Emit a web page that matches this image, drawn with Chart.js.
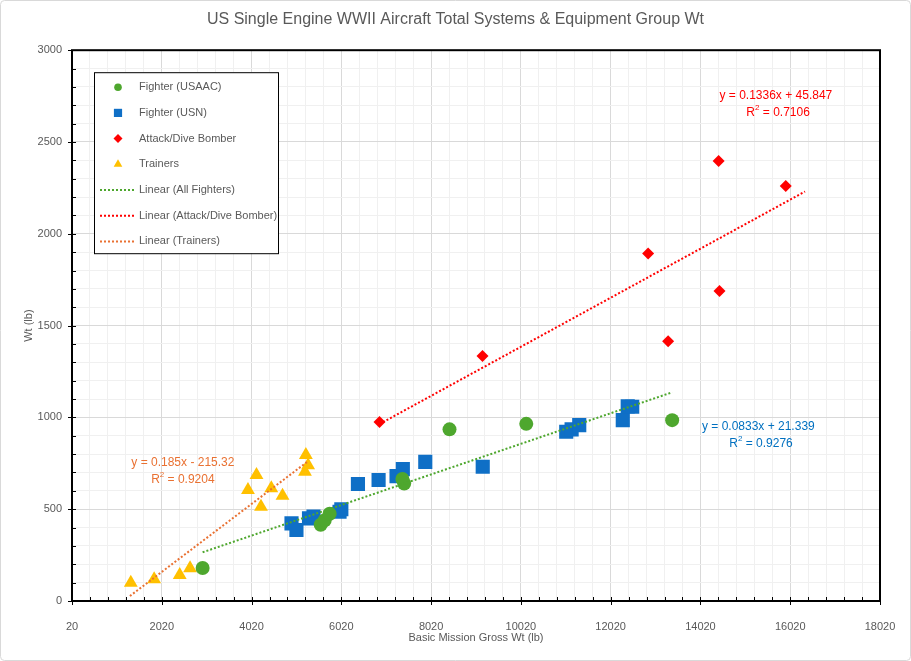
<!DOCTYPE html>
<html>
<head>
<meta charset="utf-8">
<script src="https://cdn.jsdelivr.net/npm/chart.js@4.4.1/dist/chart.umd.min.js"></script>
<style>
  html, body { margin: 0; padding: 0; background: #fff; }
</style>
</head>
<body>
<canvas id="scatter-chart" width="911" height="661"></canvas>
<script>
// values
const fighterArmyX = [2930, 5560, 5650, 5760, 7380, 7420, 8430, 10140, 13390];
const fighterArmyY = [180, 415, 440, 475, 665, 640, 935, 965, 985];

const fighterNavyX = [4910, 5020, 5300, 5400, 5980, 6020, 6390, 6850, 7250, 7390, 7890, 9170, 11030, 11150, 11320, 12290, 12400, 12500];
const fighterNavyY = [423, 387, 450, 460, 486, 500, 637, 659, 680, 718, 758, 731, 922, 935, 958, 985, 1060, 1058];

const bomberX = [6870, 9165, 12855, 13300, 14425, 14445, 15920];
const bomberY = [975, 1335, 1893, 1415, 2397, 1689, 2260];

const trainerX = [1330, 1850, 2420, 2650, 3940, 4130, 4230, 4460, 4710, 5230, 5280, 5210];
const trainerY = [100, 118, 142, 178, 604, 686, 513, 614, 573, 795, 740, 704];

// trendline equations as printed on the chart: [slope, intercept], x range
const fighterFit = [0.0833, 21.339];
const fighterFitRange = [2930, 13390];
const bomberFit = [0.1336, 45.847];
const bomberFitRange = [6870, 16350];
const trainerFit = [0.185, -215.32];
const trainerFitRange = [1310, 5280];

const xMajorTicks = [20, 2020, 4020, 6020, 8020, 10020, 12020, 14020, 16020, 18020];
const yMajorTicks = [0, 500, 1000, 1500, 2000, 2500, 3000];

const green = '#4ea72e';
const blue = '#0f6fc6';
const red = '#ff0000';
const gold = '#ffc000';
const orange = '#e97132';
const textGray = '#595959';
const font = 'Liberation Sans';

const toPoints = (xs, ys) => xs.map((x, i) => ({ x: x, y: ys[i] }));
const fitLine = (fit, range) => range.map(x => ({ x: x, y: fit[0] * x + fit[1] }));

// minor ticks: x every 400, y every 100
const xTickValues = [];
xMajorTicks.forEach((v, i) => {
  if (i === 0) { xTickValues.push(v); return; }
  for (let k = 4; k >= 0; k--) xTickValues.push(v - k * 400);
});
const yTickValues = [];
for (let v = 0; v <= 3000; v += 100) yTickValues.push(v);

const isMajor = (list, v) => list.indexOf(v) !== -1;

const scatterSet = (label, data, color, style, radius, order) => ({
  type: 'scatter',
  label: label,
  data: data,
  backgroundColor: color,
  borderColor: color,
  borderWidth: 0,
  pointStyle: style,
  pointRadius: radius,
  pointHoverRadius: radius,
  order: order
});

const trendSet = (label, data, color) => ({
  type: 'line',
  label: label,
  data: data,
  borderColor: color,
  backgroundColor: color,
  borderWidth: 2,
  borderDash: [2, 2],
  pointRadius: 0,
  fill: false,
  order: 0
});

const frameAndTicks = {
  id: 'frameAndTicks',
  beforeDraw(c) {
    const ctx = c.ctx;
    ctx.save();
    ctx.fillStyle = '#fff';
    ctx.fillRect(0, 0, c.width, c.height);
    ctx.strokeStyle = '#d9d9d9';
    ctx.lineWidth = 1;
    ctx.beginPath();
    ctx.roundRect(0.5, 0.5, c.width - 1, c.height - 1, 4);
    ctx.stroke();
    ctx.restore();
  },
  afterDatasetsDraw(c) {
    const ctx = c.ctx;
    const a = c.chartArea;
    const xs = c.scales.x, ys = c.scales.y;
    ctx.save();
    ctx.strokeStyle = '#000';
    ctx.lineWidth = 1;
    ctx.beginPath();
    xs.ticks.forEach(t => {
      const px = Math.round(xs.getPixelForValue(t.value)) + 0.5;
      ctx.moveTo(px, a.bottom - 4);
      ctx.lineTo(px, a.bottom + (isMajor(xMajorTicks, t.value) ? 4 : 0));
    });
    ys.ticks.forEach(t => {
      const py = Math.round(ys.getPixelForValue(t.value)) + 0.5;
      ctx.moveTo(a.left + 4, py);
      ctx.lineTo(a.left - (isMajor(yMajorTicks, t.value) ? 4 : 0), py);
    });
    ctx.stroke();
    ctx.lineWidth = 2;
    ctx.strokeRect(a.left, a.top, a.right - a.left, a.bottom - a.top);
    ctx.restore();
  }
};

// "y = ..." and "R² = ..." labels placed by data value
const equationLabels = [
  { text: 'y = 0.1336x + 45.847', r2: '0.7106', color: red, eq: [15700, 2750], r: [15750, 2657] },
  { text: 'y = 0.0833x + 21.339', r2: '0.9276', color: '#0070c0', eq: [15310, 947], r: [15370, 855] },
  { text: 'y = 0.185x - 215.32', r2: '0.9204', color: orange, eq: [2490, 751], r: [2490, 659] }
];

const eqPlugin = {
  id: 'eqPlugin',
  afterDatasetsDraw(c) {
    const ctx = c.ctx;
    const xs = c.scales.x, ys = c.scales.y;
    ctx.save();
    ctx.textBaseline = 'middle';
    equationLabels.forEach(l => {
      ctx.fillStyle = l.color;
      ctx.font = `12px "${font}"`;
      ctx.textAlign = 'center';
      ctx.fillText(l.text, xs.getPixelForValue(l.eq[0]), ys.getPixelForValue(l.eq[1]));
      const rest = ' = ' + l.r2;
      const wR = ctx.measureText('R').width;
      const wRest = ctx.measureText(rest).width;
      ctx.font = `8px "${font}"`;
      const w2 = ctx.measureText('2').width;
      const total = wR + w2 + wRest;
      let x = xs.getPixelForValue(l.r[0]) - total / 2;
      const y = ys.getPixelForValue(l.r[1]);
      ctx.textAlign = 'left';
      ctx.font = `12px "${font}"`;
      ctx.fillText('R', x, y);
      ctx.font = `8px "${font}"`;
      ctx.fillText('2', x + wR, y - 5);
      ctx.font = `12px "${font}"`;
      ctx.fillText(rest, x + wR + w2, y);
    });
    ctx.restore();
  }
};

const legendBox = {
  id: 'legendBox',
  afterDraw(c) {
    const ctx = c.ctx;
    const a = c.chartArea;
    const left = a.left + 22, top = a.top + 22, w = 184, h = 181;
    const markerSize = { circle: 3.8, rect: 5.8, rectRot: 4.5, triangle: 5 };
    ctx.save();
    ctx.fillStyle = '#fff';
    ctx.fillRect(left, top, w, h);
    ctx.strokeStyle = '#000';
    ctx.lineWidth = 1;
    ctx.strokeRect(left + 0.5, top + 0.5, w, h);
    ctx.font = `11px "${font}"`;
    ctx.textBaseline = 'middle';
    ctx.textAlign = 'left';
    c.data.datasets.forEach((ds, i) => {
      const y = top + 15 + i * 25.7;
      if (ds.type === 'scatter') {
        ctx.fillStyle = ds.backgroundColor;
        Chart.helpers.drawPoint(ctx, {
          pointStyle: ds.pointStyle,
          radius: markerSize[ds.pointStyle],
          rotation: 0,
          borderWidth: 0
        }, left + 24, y);
      } else {
        ctx.strokeStyle = ds.borderColor;
        ctx.lineWidth = 2;
        ctx.setLineDash([2, 2]);
        ctx.beginPath();
        ctx.moveTo(left + 6, y);
        ctx.lineTo(left + 40, y);
        ctx.stroke();
        ctx.setLineDash([]);
      }
      ctx.fillStyle = textGray;
      ctx.fillText(ds.label, left + 45, y);
    });
    ctx.restore();
  }
};

new Chart(document.getElementById('scatter-chart').getContext('2d'), {
  type: 'scatter',
  data: {
    datasets: [
      scatterSet('Fighter (USAAC)', toPoints(fighterArmyX, fighterArmyY), green, 'circle', 7, 1),
      scatterSet('Fighter (USN)', toPoints(fighterNavyX, fighterNavyY), blue, 'rect', 10, 2),
      scatterSet('Attack/Dive Bomber', toPoints(bomberX, bomberY), red, 'rectRot', 6, 3),
      scatterSet('Trainers', toPoints(trainerX, trainerY), gold, 'triangle', 8, 4),
      trendSet('Linear (All Fighters)', fitLine(fighterFit, fighterFitRange), '#4ea72e'),
      trendSet('Linear (Attack/Dive Bomber)', fitLine(bomberFit, bomberFitRange), red),
      trendSet('Linear (Trainers)', fitLine(trainerFit, trainerFitRange), orange)
    ]
  },
  options: {
    responsive: false,
    animation: false,
    layout: { padding: { left: 15, right: 15, top: 0, bottom: 0 } },
    plugins: {
      legend: { display: false },
      tooltip: { enabled: false },
      title: {
        display: true,
        text: 'US Single Engine WWII Aircraft Total Systems & Equipment Group Wt',
        color: textGray,
        font: { family: font, size: 16, weight: 'normal' },
        padding: { top: 10, bottom: 21 }
      }
    },
    scales: {
      x: {
        type: 'linear',
        min: 20,
        max: 18020,
        afterBuildTicks: s => { s.ticks = xTickValues.map(v => ({ value: v })); },
        afterFit: s => { s.height = 60; s.paddingRight = 31; },
        ticks: {
          autoSkip: false,
          maxRotation: 0,
          padding: 19,
          color: textGray,
          font: { family: font, size: 11 },
          callback: v => isMajor(xMajorTicks, v) ? String(v) : ''
        },
        grid: {
          drawTicks: false,
          color: ctx => ctx.tick && isMajor(xMajorTicks, ctx.tick.value) ? '#d9d9d9' : '#f0f0f0'
        },
        border: { display: false },
        title: {
          display: true,
          text: 'Basic Mission Gross Wt (lb)',
          color: textGray,
          font: { family: font, size: 11 },
          padding: { top: 0, bottom: 16 }
        }
      },
      y: {
        type: 'linear',
        min: 0,
        max: 3000,
        afterBuildTicks: s => { s.ticks = yTickValues.map(v => ({ value: v })); },
        afterFit: s => { s.width = 57; },
        ticks: {
          autoSkip: false,
          padding: 10,
          color: textGray,
          font: { family: font, size: 11 },
          callback: v => isMajor(yMajorTicks, v) ? String(v) : ''
        },
        grid: {
          drawTicks: false,
          color: ctx => ctx.tick && isMajor(yMajorTicks, ctx.tick.value) ? '#d9d9d9' : '#f0f0f0'
        },
        border: { display: false },
        title: {
          display: true,
          text: 'Wt (lb)',
          color: textGray,
          font: { family: font, size: 11 },
          padding: { top: 7, bottom: 0 }
        }
      }
    }
  },
  plugins: [frameAndTicks, eqPlugin, legendBox]
});
</script>
</body>
</html>
